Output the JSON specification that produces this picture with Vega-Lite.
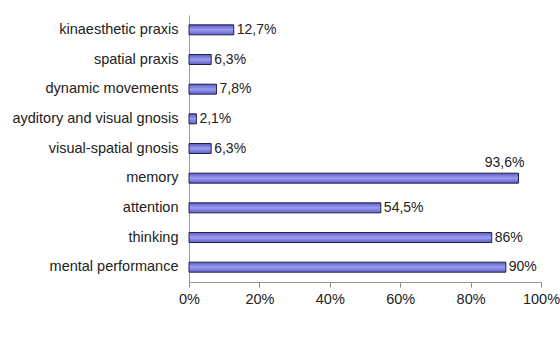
{
  "$schema": "https://vega.github.io/schema/vega-lite/v6.json",
  "width": 352,
  "height": 267,
  "autosize": "none",
  "padding": {"left": 189, "top": 15, "right": 19, "bottom": 82},
  "background": "white",
  "data": {
    "values": [
      {"skill": "kinaesthetic praxis", "value": 12.7, "label": "12,7%"},
      {"skill": "spatial praxis", "value": 6.3, "label": "6,3%"},
      {"skill": "dynamic movements", "value": 7.8, "label": "7,8%"},
      {"skill": "ayditory and visual gnosis", "value": 2.1, "label": "2,1%"},
      {"skill": "visual-spatial gnosis", "value": 6.3, "label": "6,3%"},
      {"skill": "memory", "value": 93.6, "label": "93,6%"},
      {"skill": "attention", "value": 54.5, "label": "54,5%"},
      {"skill": "thinking", "value": 86, "label": "86%"},
      {"skill": "mental performance", "value": 90, "label": "90%"}
    ]
  },
  "encoding": {
    "y": {
      "field": "skill",
      "type": "nominal",
      "sort": null,
      "title": null,
      "axis": {
        "ticks": false,
        "labelPadding": 11,
        "labelFont": "Liberation Sans",
        "labelFontSize": 14.5,
        "labelColor": "#222222",
        "domainColor": "#999999",
        "labelLimit": 300
      }
    },
    "x": {
      "field": "value",
      "type": "quantitative",
      "scale": {"domain": [0, 100], "nice": false},
      "title": null,
      "axis": {
        "values": [0, 20, 40, 60, 80, 100],
        "labelExpr": "datum.value + '%'",
        "grid": false,
        "tickSize": 5,
        "tickColor": "#888888",
        "domainColor": "#999999",
        "labelPadding": 5,
        "labelFont": "Liberation Sans",
        "labelFontSize": 14.5,
        "labelColor": "#222222",
        "labelFlush": false
      }
    }
  },
  "layer": [
    {
      "mark": {
        "type": "bar",
        "size": 10,
        "stroke": "#22224a",
        "strokeWidth": 1,
        "color": {
          "gradient": "linear",
          "x1": 0, "y1": 0, "x2": 0, "y2": 1,
          "stops": [
            {"offset": 0, "color": "#5a5ac0"},
            {"offset": 0.5, "color": "#9c9cf2"},
            {"offset": 1, "color": "#5e5ec6"}
          ]
        }
      }
    },
    {
      "transform": [{"filter": "datum.skill !== 'memory'"}],
      "mark": {
        "type": "text",
        "align": "left",
        "dx": 3,
        "font": "Liberation Sans",
        "fontSize": 14,
        "color": "#222222"
      },
      "encoding": {"text": {"field": "label"}}
    },
    {
      "transform": [{"filter": "datum.skill === 'memory'"}],
      "mark": {
        "type": "text",
        "align": "right",
        "dx": 6,
        "dy": -15,
        "font": "Liberation Sans",
        "fontSize": 14,
        "color": "#222222"
      },
      "encoding": {"text": {"field": "label"}}
    }
  ],
  "config": {"view": {"stroke": null}}
}
